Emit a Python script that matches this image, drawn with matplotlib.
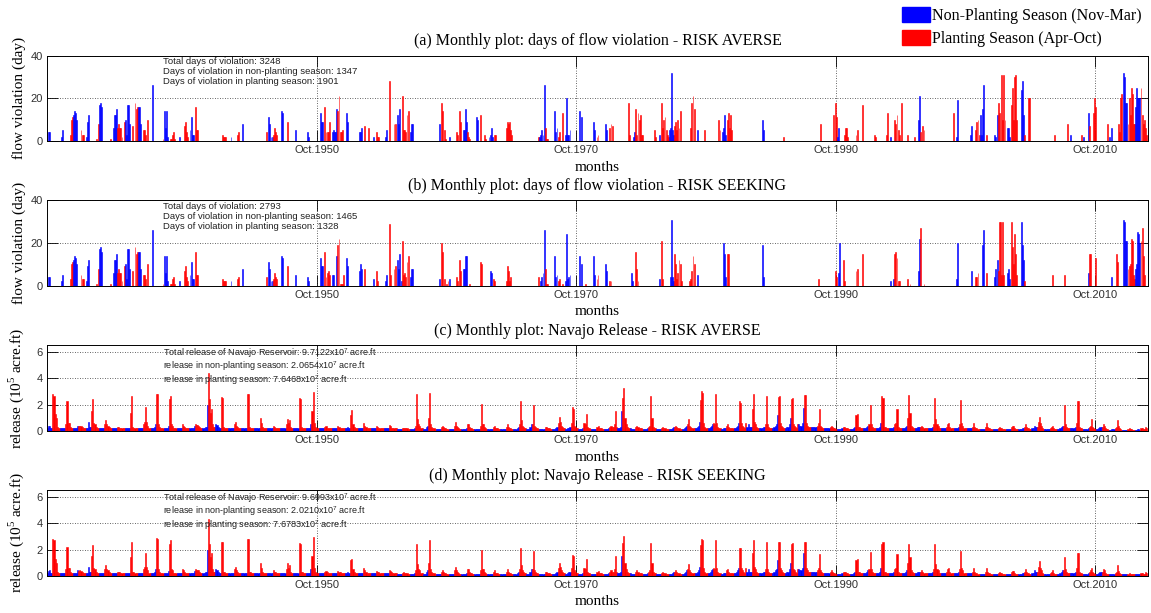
import numpy as np
import matplotlib
matplotlib.use("Agg")
import matplotlib.pyplot as plt
from matplotlib.patches import Patch

plt.rcParams['font.family'] = ['Liberation Sans', 'DejaVu Sans']
SERIF = ['Liberation Serif', 'DejaVu Serif']

# monthly series, index 0 = Oct 1929, last = Sep 2014
n_months = 1020

tick_years = [1950, 1970, 1990, 2010]
tick_labels = ['Oct.1950', 'Oct.1970', 'Oct.1990', 'Oct.2010']

# days of flow violation, runs of consecutive months: "YYYY-MM v1 v2 ..."
viol_shared = """
1929-12 4 4
1930-12 2 5
1931-08 3 10 11 12 14 13 10
1932-06 5 3 3
1932-11 2 9 12
1933-08 1 0 8
1933-11 17 18 16
1934-09 1
1934-12 6 12 12 15
1935-04 6 8 6 6 2
1935-10 9 10 3 17 17 8
1936-06 7 0 18 15 16 16 16 8
1937-04 5 5 3 0 10
1937-12 26
1938-10 1 14 6 14 2
1939-05 1 1 3 4 1
1940-01 2
1940-06 7 9 4 2 0 5 11 3 3 0 16 5 5
1943-05 3 2 2 2
1944-01 2
1944-07 3 4
1944-12 8
1946-10 4
1946-12 11 8 2 2 3 6 4 3
1947-12 14 13
1948-05 9
1949-01 5
1949-12 4 2
"""

viol_averse = """
1950-12 13 9 9 0 16 4 4 4 9 0 0 4 5 4 4 15 14 21 4 4 5
1952-12 13 9
1953-12 4 4 6 0 0 7 0 0 6
1955-01 2 0 0 4 2 2
1955-12 2 5 0 0 28 0 0 0 8 8 0 12 8 15 0 0 21 5 5 4 12 14 0 4 8 8
1960-02 8 0 18 14 0 5 1 0 0 2
1961-06 4 3 0 14 9 0 5 5 15 9 4 2 1
1962-12 11 10 0 0 12
1963-08 3 1 0 0 2 3 6 2 0 3 3
1965-04 6 9 8 9 5 3
1967-10 2 2 3 5 3 26 6 1 1
1968-12 0 14 4 6 2 4 0 0 13 0 0 3 20 3 3 5
1970-12 14 0 11
1972-01 9 5 0 2 3
1972-12 8 5 0 0 6 8 7
1974-09 18 3
1975-02 2 4 15 3 13 10 12 3 3
1976-09 5 2
1977-02 3 0 18 6 10 11 5 3 2 5 6 32 5 3 7 9 5 10 6 14
1979-07 6 18 21 15 0 0 5
1980-08 5
1981-09 10 5 0 4 6 12 3 0 10 13 6 12 5
1985-01 10 5
1986-09 2
1989-07 8
1990-07 12 0 18 11 2 6
1991-05 3 6 6 2
1992-04 3 5
1992-10 17
1993-09 3 2
1994-08 3 13 0 0 2
1995-04 10 8 12 5 3 0 18
1996-04 3
1996-10 2
1997-02 10 21 4 0 7 5
1999-10 13
2000-01 2 19
2001-02 3 7 0 0 0 5 9 10 3 12 3 15 26
2002-05 3
2002-12 3 2 0 12 18 13 0 31 10 31 10 0 6 6 2 0 17 25 10 30 31 10 0 0 0 24 28 12 3 0 0 0 20 20
2007-08 3
2008-08 8 0 0 3
2009-09 3 0 2
2010-03 13 7 0 0 0 13 20 16
2011-09 8 0 2 0 6
2012-07 8 4 20 22 0 32 30 18 18 8 20 12 25 22 8 8 16 25 20 20 20 25 12 8 10 6 3
"""

viol_seeking = """
1950-12 13 9 9 0 16 4 6 7 5 0 0 5 5 0 0 14 19 22 1 1 1 5
1952-12 13 9
1953-12 7 10 8 0 0 8
1955-01 3 0 0 7 2
1955-12 2 5 0 0 29 5 0 0 8 9 0 12 8 15 0 2 21 5 6 4 11 14 0 4 8 8
1960-02 3 0 20 16 0 3 0 1 2 3
1961-06 4 2 0 12 7 0 8 8 14 14 0 0 1
1963-04 11 10
1964-01 7 6 0 3 2
1965-04 2 9 7 2 4
1967-10 4 0 2 4 6 26 8 1 1
1968-12 0 14 4 5 2 3 0 0 1 0 0 2 24 3 4 5
1970-12 14 0 10 0 0 1
1972-01 14 5 0 3 5
1972-12 10 7 0 0 2 2
1974-12 6 2 0 0 16 8 2
1977-02 3 0 21 3 0 0 0 0 0 0 4 31 4 2 15 10 3 6 12 10 2
1979-06 2 3 7 14 10 0 0 5
1982-01 20 15 4 0 15 15
1985-01 19 4
1989-05 3
1990-09 7 4 0 6 20 0 0 12 2
1992-04 7 8
1992-10 15
1994-12 2
1995-03 3 15 16 13 2 2
1996-04 3 0 1
1997-02 7 22 27 0 0 1
2000-01 3 20
2001-03 7 0 0 0 4 4 6 0 0 0 19 26 0 0 6
2002-12 4 8 0 12 7 30 30 5 30 5 0 0 6 8 3 0 30 18 10 24 15 5 0 0 0 30 19 12 2
2007-06 5
2008-05 5
2010-03 6 15 15 0 0 0 0 13
2012-01 4
2012-05 15 11
2012-12 31 30 21 21 8 9 10 22 21 5 3 8 10 25 24 20 21 27 14 5
"""

# Navajo release (10^5 acre.ft), one water year per row: Oct Nov Dec Jan Feb Mar Apr May Jun Jul Aug Sep
release_averse = """
1930 .2 .2 .35 .4 .2 .2 2.8 2.7 1.3 1.0 .3 .2
1931 .2 .2 .2 .2 .2 .2 .5 2.3 .6 .6 .3 .2
1932 .2 .2 .2 .2 .2 .4 .35 .4 .35 .3 .2 .2
1933 .2 .2 .2 .65 .3 .3 1.5 2.45 .6 .5 .3 .2
1934 .2 .2 .2 .2 .2 .2 .5 .8 .5 .4 .3 .2
1935 .2 .2 .2 .2 .2 .2 .3 .3 .25 .2 .2 .2
1936 .2 .2 .2 .2 .2 .2 1.4 2.7 .3 .25 .2 .2
1937 .2 .2 .2 .2 .2 .2 .5 .7 1.8 .7 .4 .2
1938 .2 .2 .2 .2 .3 .55 2.85 2.8 .5 .3 .2 .2
1939 .2 .2 .2 .2 .2 .35 2.4 2.7 .5 .4 .2 .2
1940 .2 .2 .2 .2 .2 .2 .55 .4 .3 .2 .2 .2
1941 .2 .2 .2 .2 .2 .35 .5 .45 .45 .4 .3 .2
1942 .2 .2 .2 .3 .3 2.0 4.4 2.4 1.4 1.7 .5 .3
1943 .3 .55 .45 .3 .2 .2 2.6 2.55 .3 .25 .2 .2
1944 .2 .2 .2 .2 .2 .2 .5 .7 .4 .3 .2 .2
1945 .2 .2 .2 .2 .2 .2 2.8 2.8 .3 .25 .2 .2
1946 .2 .2 .2 .2 .2 .2 1.0 .6 .3 .2 .2 .2
1947 .2 .2 .2 .2 .2 .2 .4 .3 .25 .2 .2 .2
1948 .2 .2 .2 .2 .2 .2 .5 .95 .6 .8 .3 .2
1949 .2 .2 .2 .2 .2 .2 2.5 2.45 .3 .25 .2 .2
1950 .2 .2 .2 .2 .2 .5 1.5 2.95 .6 .3 .2 .2
1951 .2 .2 .2 .2 .2 .2 .3 .35 .25 .2 .2 .2
1952 .2 .2 .2 .2 .2 .2 .35 .3 .25 .2 .2 .2
1953 .2 .2 .2 .3 .2 .2 1.2 1.6 .5 .3 .2 .2
1954 .2 .2 .2 .2 .2 .2 .6 .4 .3 .2 .2 .2
1955 .2 .2 .2 .2 .2 .2 .35 .3 .25 .2 .2 .2
1956 .2 .2 .2 .2 .2 .2 .45 .35 .25 .2 .2 .2
1957 .2 .15 .15 .15 .15 .15 .2 .25 .2 .2 .2 .15
1958 .15 .15 .15 .15 .15 .2 .4 2.8 .9 .5 .4 .2
1959 .2 .15 .15 .15 .3 .4 1.0 2.9 .5 .3 .2 .2
1960 .15 .15 .15 .15 .15 .15 .3 .4 .3 .2 .2 .15
1961 .15 .15 .15 .15 .15 .15 .4 .7 .4 .3 .2 .15
1962 .15 .15 .15 .15 .15 .2 .5 .5 .3 .2 .2 .15
1963 .15 .15 .15 .15 .15 .15 .4 2.05 .5 .5 .3 .2
1964 .15 .15 .15 .15 .15 .15 .3 .4 .2 .2 .2 .15
1965 .15 .15 .15 .15 .15 .15 .3 .5 .3 .2 .2 .15
1966 .15 .15 .15 .15 .2 .3 .5 2.25 .8 .4 .3 .2
1967 .2 .15 .15 .15 .3 .55 .5 1.95 .4 .3 .2 .2
1968 .15 .15 .15 .15 .15 .15 .3 .3 .2 .2 .2 .15
1969 .15 .15 .15 .15 .2 .3 .6 1.05 .7 .4 .3 .2
1970 .2 .15 .15 .2 .25 .3 .6 1.8 1.7 .4 .3 .2
1971 .2 .15 .15 .15 .15 .2 .6 .5 1.3 .3 .2 .2
1972 .15 .15 .15 .15 .15 .15 .3 .35 .2 .2 .2 .15
1973 .15 .15 .15 .15 .15 .2 .3 .4 .3 .3 .5 1.5
1974 .3 .2 .2 .2 .3 1.5 2.5 3.25 1.0 .5 .3 .2
1975 .2 .2 .15 .15 .15 .15 .3 .4 .3 .2 .2 .2
1976 .15 .15 .15 .15 .15 .2 .3 .4 2.65 1.0 .3 .2
1977 .2 .15 .15 .15 .15 .15 .2 .3 .2 .2 .15 .15
1978 .15 .15 .15 .15 .2 .3 .3 .4 .3 .2 .2 .15
1979 .15 .15 .15 .2 .3 .4 .55 .9 .4 .3 .2 .2
1980 .2 .2 .2 .3 .4 .7 2.35 3.05 2.9 .6 .3 .2
1981 .2 .2 .2 .3 .4 .5 .6 .5 2.85 .6 .3 .2
1982 .2 .15 .15 .2 .2 .2 .4 .5 .3 .2 .2 .2
1983 .2 .2 .2 .3 .4 .6 2.3 2.1 .6 .4 .3 .2
1984 .6 .3 .5 .3 .3 .3 1.7 2.85 .7 .5 .3 .2
1985 .2 .2 .2 .2 .3 .3 .5 2.65 .5 .3 .2 .2
1986 .2 .2 .3 .4 .5 1.2 2.6 2.7 .6 .4 .3 .2
1987 .2 .2 .3 .3 .5 1.0 2.4 2.55 .5 .4 .3 .2
1988 .5 .5 .4 .4 .6 1.75 2.75 2.75 .6 .4 .3 .3
1989 .3 .3 .3 .3 .3 .3 .4 .6 1.7 .4 .3 .2
1990 .2 .2 .2 .2 .2 .2 .3 .4 .3 .2 .2 .15
1991 .15 .15 .15 .15 .15 .2 .3 .3 .25 .2 .2 .15
1992 .15 .15 .15 .15 .2 .3 1.2 1.3 .3 .3 .2 .2
1993 .2 .2 .2 .2 .3 .4 .5 1.95 .5 .3 .2 .2
1994 .2 .2 .2 .2 .3 .6 2.7 2.55 .3 .3 .2 .2
1995 .2 .2 .2 .2 .2 .3 .5 .6 1.7 .3 .2 .2
1996 .2 .2 .2 .2 .3 .4 1.0 2.75 1.4 .4 .3 .2
1997 .2 .2 .2 .3 .3 .3 .3 .4 .3 .2 .2 .2
1998 .2 .2 .2 .2 .2 .3 .5 2.55 .9 .5 .4 .2
1999 .2 .2 .2 .2 .2 .2 .3 .5 .6 .3 .2 .2
2000 .2 .2 .2 .2 .2 .3 .5 2.35 .6 .4 .2 .2
2001 .2 .2 .2 .2 .2 .2 .3 .6 .3 .2 .2 .15
2002 .15 .15 .15 .15 .15 .15 .3 .6 .3 .2 .2 .15
2003 .15 .15 .15 .15 .15 .15 .2 .3 .2 .2 .15 .15
2004 .15 .15 .15 .15 .15 .15 .3 .35 .35 .2 .15 .15
2005 .15 .15 .15 .15 .2 .2 .3 .5 .3 .2 .2 .15
2006 .15 .2 .2 .4 .3 .3 .3 .7 1.1 .6 .4 .2
2007 .15 .15 .15 .15 .15 .15 .2 .3 .4 .2 .15 .15
2008 .15 .15 .15 .2 .3 .4 .4 2.0 .5 .3 .2 .2
2009 .2 .2 .2 .2 .2 .3 .6 2.25 2.3 .3 .2 .2
2010 .15 .15 .15 .15 .15 .2 .3 .4 .95 .3 .2 .15
2011 .15 .15 .15 .2 .3 .3 .3 .5 .4 .2 .15 .15
2012 .1 .1 .1 .15 .15 .15 .2 .3 .85 .35 .2 .15
2013 .1 .1 .1 .1 .1 .1 .15 .2 .15 .15 .1 .1
2014 .1 .1 .1 .15 .15 .1 .2 .2 .15 .15 .3 .2
"""

# risk-seeking release: same as risk-averse except these months
release_seeking_changes = {
    "1931-05": 2.2, "1933-05": 2.35, "1936-05": 2.6, "1937-06": 1.7,
    "1942-04": 4.3, "1953-05": 1.3, "1958-05": 2.45, "1959-05": 2.75,
    "1963-05": 1.95, "1966-05": 2.1, "1967-05": 1.9, "1969-05": 1.0,
    "1970-05": 1.6, "1970-06": 1.5, "1971-06": 1.25, "1974-05": 3.05,
    "1976-06": 2.5, "1980-05": 2.8, "1980-06": 2.7, "1981-06": 2.75,
    "1983-04": 2.1, "1984-05": 2.7, "1985-05": 2.55, "1986-05": 2.55,
    "1987-05": 2.5, "1988-04": 2.6, "1988-05": 2.55, "1989-06": 1.65,
    "1992-05": 1.25, "1993-05": 1.8, "1994-04": 2.45, "1995-06": 1.65,
    "1996-05": 2.4, "1998-05": 2.4, "2000-05": 1.85, "2008-05": 1.45,
    "2009-05": 1.75, "2009-06": 1.7, "2010-06": 0.6,
}

notes_a = ["Total days of violation: 3248",
           "Days of violation in non-planting season: 1347",
           "Days of violation in planting season: 1901"]
notes_b = ["Total days of violation: 2793",
           "Days of violation in non-planting season: 1465",
           "Days of violation in planting season: 1328"]
sup7 = r"x10$^{\mathregular{7}}$ acre.ft"
notes_c = ["Total release of Navajo Reservoir: 9.7122" + sup7,
           "release in non-planting season: 2.0654" + sup7,
           "release in planting season: 7.6468" + sup7]
notes_d = ["Total release of Navajo Reservoir: 9.6993" + sup7,
           "release in non-planting season: 2.0210" + sup7,
           "release in planting season: 7.6783" + sup7]


def month_index(tag):
    y, m = tag.split('-')
    return (int(y) - 1929) * 12 + int(m) - 10


def runs_to_series(*tables):
    vals = np.zeros(n_months)
    for table in tables:
        for line in table.strip().splitlines():
            parts = line.split()
            start = month_index(parts[0])
            for k, v in enumerate(parts[1:]):
                vals[start + k] = float(v)
    return vals


def rows_to_series(table):
    vals = np.zeros(n_months)
    for line in table.strip().splitlines():
        parts = line.split()
        wy = int(parts[0])
        for k, v in enumerate(parts[1:]):
            vals[(wy - 1930) * 12 + k] = float(v)
    return vals


viol_a = runs_to_series(viol_shared, viol_averse)
viol_b = runs_to_series(viol_shared, viol_seeking)
rel_c = rows_to_series(release_averse)
rel_d = rel_c.copy()
for tag, v in release_seeking_changes.items():
    rel_d[month_index(tag)] = v

# Nov-Mar blue, Apr-Oct red
x = np.arange(n_months)
cal_month = (x + 9) % 12 + 1
colors = np.where(np.isin(cal_month, [11, 12, 1, 2, 3]), '#0000ff', '#ff0000')

fig = plt.figure(figsize=(11.51, 6.13), dpi=100)
left, width = 47 / 1151, 1101 / 1151
tops = [55.5, 200.3, 345.0, 490.0]
bottoms = [141.0, 285.7, 431.0, 575.7]

panels = [
    (viol_a, 0.85, 40, [0, 20, 40], "flow violation (day)",
     "(a) Monthly plot: days of flow violation - RISK AVERSE", notes_a,
     [0.93, 0.815, 0.695], 6.8),
    (viol_b, 0.85, 40, [0, 20, 40], "flow violation (day)",
     "(b) Monthly plot: days of flow violation - RISK SEEKING", notes_b,
     [0.93, 0.815, 0.695], 6.8),
    (rel_c, 1.0, 6.55, [0, 2, 4, 6], r"release (10$^{\mathregular{5}}$ acre.ft)",
     "(c) Monthly plot: Navajo Release - RISK AVERSE", notes_c,
     [0.905, 0.75, 0.595], 6.5),
    (rel_d, 1.0, 6.55, [0, 2, 4, 6], r"release (10$^{\mathregular{5}}$ acre.ft)",
     "(d) Monthly plot: Navajo Release - RISK SEEKING", notes_d,
     [0.905, 0.75, 0.595], 6.5),
]

for (vals, bw, ytop, yt, ylab, title, notes, ny, nfs), t, b in zip(panels, tops, bottoms):
    ax = fig.add_axes([left, 1 - b / 613, width, (b - t) / 613])
    ax.bar(x, vals, width=bw, color=colors, edgecolor=colors, linewidth=0.4)
    ax.set_xlim(0.5, 1020.5)
    ax.set_ylim(0, ytop)
    ax.set_yticks(yt)
    ax.set_xticks([(y - 1929) * 12 - 1 for y in tick_years])
    ax.set_xticklabels(tick_labels)
    ax.tick_params(direction='in', length=7.9, width=0.6, top=True, right=True,
                   labelsize=8, pad=3, labelcolor='#303030')
    ax.grid(True, linestyle=(0, (1, 2)), color='#333333', linewidth=0.6)
    ax.set_axisbelow(True)
    for s in ax.spines.values():
        s.set_linewidth(0.7)
    ax.set_title(title, fontsize=11.5, family=SERIF, pad=7.5)
    ax.set_xlabel("months", fontsize=11, family=SERIF, labelpad=4)
    ax.set_ylabel(ylab, fontsize=11, family=SERIF)
    ax.yaxis.set_label_coords(-0.019, 0.5)
    for s, yy in zip(notes, ny):
        ax.text(0.1054, yy, s, transform=ax.transAxes, fontsize=nfs,
                va='center', ha='left', color='#202020')

handles = [Patch(facecolor='blue', edgecolor='blue', label='Non-Planting Season (Nov-Mar)'),
           Patch(facecolor='red', edgecolor='red', label='Planting Season (Apr-Oct)')]
fig.legend(handles=handles, loc='upper left', bbox_to_anchor=(0.781, 0.994),
           frameon=False, prop={'family': SERIF, 'size': 11.5}, handlelength=1.75,
           handleheight=1.1, handletextpad=0.15, labelspacing=0.35,
           borderpad=0.2, borderaxespad=0)

fig.savefig("out.png", dpi=100)
